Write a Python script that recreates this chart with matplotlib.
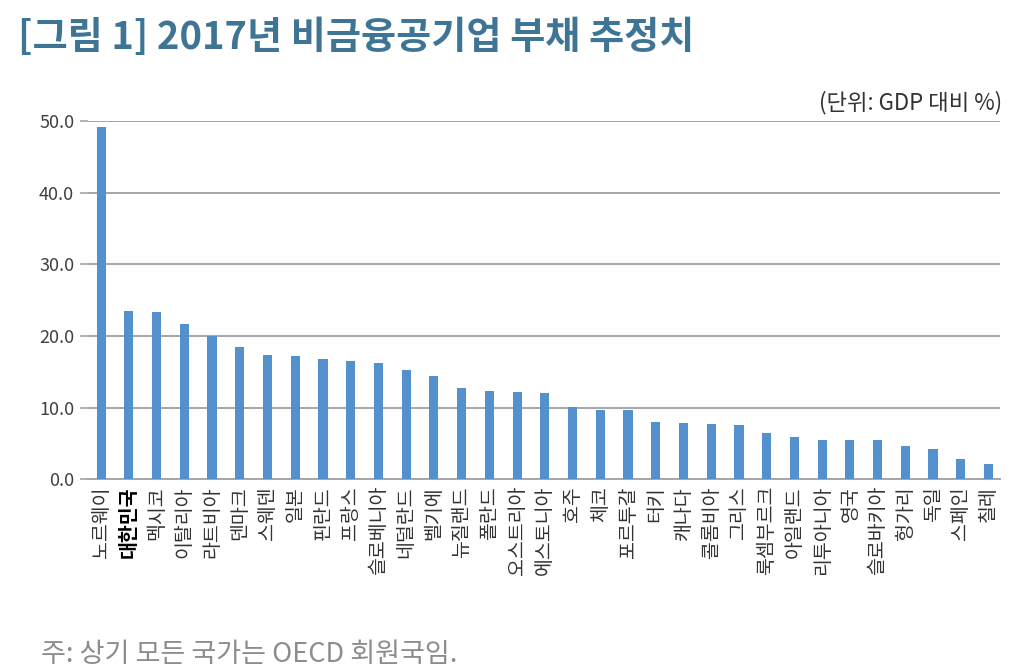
import matplotlib.pyplot as plt
import numpy as np

plt.rcParams['font.family'] = ['Noto Sans CJK KR', 'DejaVu Sans']

countries = ["노르웨이", "대한민국", "멕시코", "이탈리아", "라트비아", "덴마크", "스웨덴", "일본",
             "핀란드", "프랑스", "슬로베니아", "네덜란드", "벨기에", "뉴질랜드", "폴란드",
             "오스트리아", "에스토니아", "호주", "체코", "포르투갈", "터키", "캐나다",
             "콜롬비아", "그리스", "룩셈부르크", "아일랜드", "리투아니아", "영국",
             "슬로바키아", "헝가리", "독일", "스페인", "칠레"]
debt = [49.1, 23.5, 23.3, 21.6, 20.0, 18.4, 17.3, 17.2, 16.8, 16.5, 16.2, 15.3, 14.4,
        12.7, 12.3, 12.2, 12.0, 10.1, 9.7, 9.6, 8.0, 7.9, 7.7, 7.6, 6.4, 5.9, 5.5, 5.5,
        5.4, 4.6, 4.2, 2.8, 2.1]
yticks = [0, 10, 20, 30, 40, 50]

fig = plt.figure(figsize=(10.24, 6.72), dpi=100)
ax = fig.add_axes([0.086, 0.287, 0.891, 0.533])

x = np.arange(len(countries))
ax.bar(x, debt, width=0.33, color="#5490CD", zorder=3)

ax.set_xlim(-0.47, len(countries) - 0.57)
ax.set_ylim(0, 50)
ax.set_yticks(yticks)
ax.set_yticklabels([f"{v:.1f}" for v in yticks], fontsize=13, color="#404040")
ax.yaxis.grid(True, color="#A6A6A6", linewidth=1.4, zorder=0)
ax.tick_params(axis="y", length=6, color="#A6A6A6", width=1.2, pad=4)
ax.tick_params(axis="x", length=0, pad=5)
for s in ["top", "right", "left"]:
    ax.spines[s].set_visible(False)
ax.spines["bottom"].set_color("#A6A6A6")
ax.spines["bottom"].set_linewidth(1.4)

ax.set_xticks(x)
ax.set_xticklabels(countries, rotation=90, fontsize=14, color="#333333", va="top", ha="center")
for lbl in ax.get_xticklabels():
    if lbl.get_text() == "대한민국":
        lbl.set_fontweight("bold")
        lbl.set_color("black")

fig.text(0.018, 0.944, "[그림 1] 2017년 비금융공기업 부채 추정치", fontsize=27.5,
         fontweight="bold", color="#3F7594", va="center", ha="left")
fig.text(0.979, 0.847, "(단위: GDP 대비 %)", fontsize=16, color="#333333", ha="right", va="center")
fig.text(0.04, 0.026, "주: 상기 모든 국가는 OECD 회원국임.", fontsize=19.5, color="#8C8C8C",
         fontweight="light", ha="left", va="center")

fig.savefig("out.png", dpi=100)
